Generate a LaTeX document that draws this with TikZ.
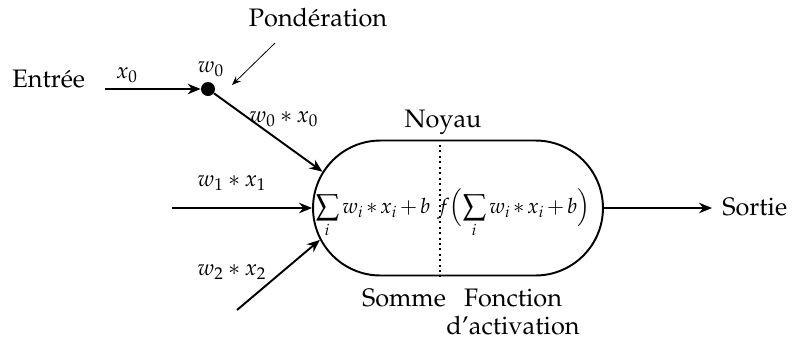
\documentclass[tikz,border=0pt]{standalone}
\usepackage[T1]{fontenc}
\usepackage{mathpazo}
\usetikzlibrary{arrows.meta, shapes.misc}

\begin{document}
\begin{tikzpicture}[
    x=0.02cm, y=-0.02cm,
    font=\Large,
    lbl/.style={inner sep=0pt},
    mlbl/.style={inner sep=0pt, font=\fontsize{12.8}{15}\selectfont},
    formula/.style={inner sep=0pt, anchor=base, font=\fontsize{12}{14}\selectfont},
    dot/.style={circle, fill=black, inner sep=0pt, minimum size=0.28cm},
    core/.style={draw, rounded rectangle, line width=1.1pt, inner sep=0pt, minimum width=5.8cm, minimum height=2.7cm},
    flow/.style={line width=1.1pt, -{Stealth[length=2.6mm, width=2.1mm]}},
    hint/.style={line width=0.45pt, -{Stealth[length=1.8mm, width=1.4mm]}}
  ]
  \useasboundingbox (0,0) rectangle (795,343);

  % entree et ponderation
  \node[lbl, anchor=base west] (entree) at (12,87) {Entr\'ee};
  \coordinate (in0) at (105,89);
  \node[dot] (w0dot) at (208,89) {};
  \node[mlbl] (x0) at (127,75) {$x_0$};
  \node[mlbl] (w0) at (211,69) {$w_0$};
  \node[lbl] (pond) at (318,18) {Pond\'eration};
  \coordinate (pondfrom) at (275,43);
  \coordinate (pondto) at (232,85);

  % noyau
  \node[core] (noyau) at (458,208) {};
  \node[lbl] (noyaulbl) at (443,122) {Noyau};
  \coordinate (sep) at (440,208);
  \node[formula] (somme) at (373,213) {$\displaystyle\medmuskip=2.2mu \sum_i w_i * x_i + b$};
  \node[formula] (activ) at (514,213) {$\displaystyle\medmuskip=2.2mu f\Bigl(\sum_i w_i * x_i + b\Bigr)$};
  \node[lbl] (sommelbl) at (404,298) {Somme};
  \node[lbl, align=center] (activlbl) at (513,312) {Fonction\\[-2pt]d'activation};

  % autres entrees
  \coordinate (in1) at (172,208);
  \coordinate (in2) at (237,310);
  \node[mlbl] (w0x0) at (284,119) {$w_0 * x_0$};
  \node[mlbl] (w1x1) at (232,183) {$w_1 * x_1$};
  \node[mlbl] (w2x2) at (232,272) {$w_2 * x_2$};

  % sortie
  \coordinate (out) at (712,208);
  \node[lbl, anchor=west] (sortie) at (722,207) {Sortie};

  \draw[flow] (in0) -- (w0dot);
  \draw[hint] (pondfrom) -- (pondto);
  \draw[flow] (w0dot) -- (noyau.165);
  \draw[flow] (in1) -- (noyau.west);
  \draw[flow] (in2) -- (noyau.193);
  \draw[flow] (noyau.east) -- (out);
  \draw[line width=1.1pt, dotted] (sep |- noyau.north) -- (sep |- noyau.south);

\end{tikzpicture}
\end{document}
